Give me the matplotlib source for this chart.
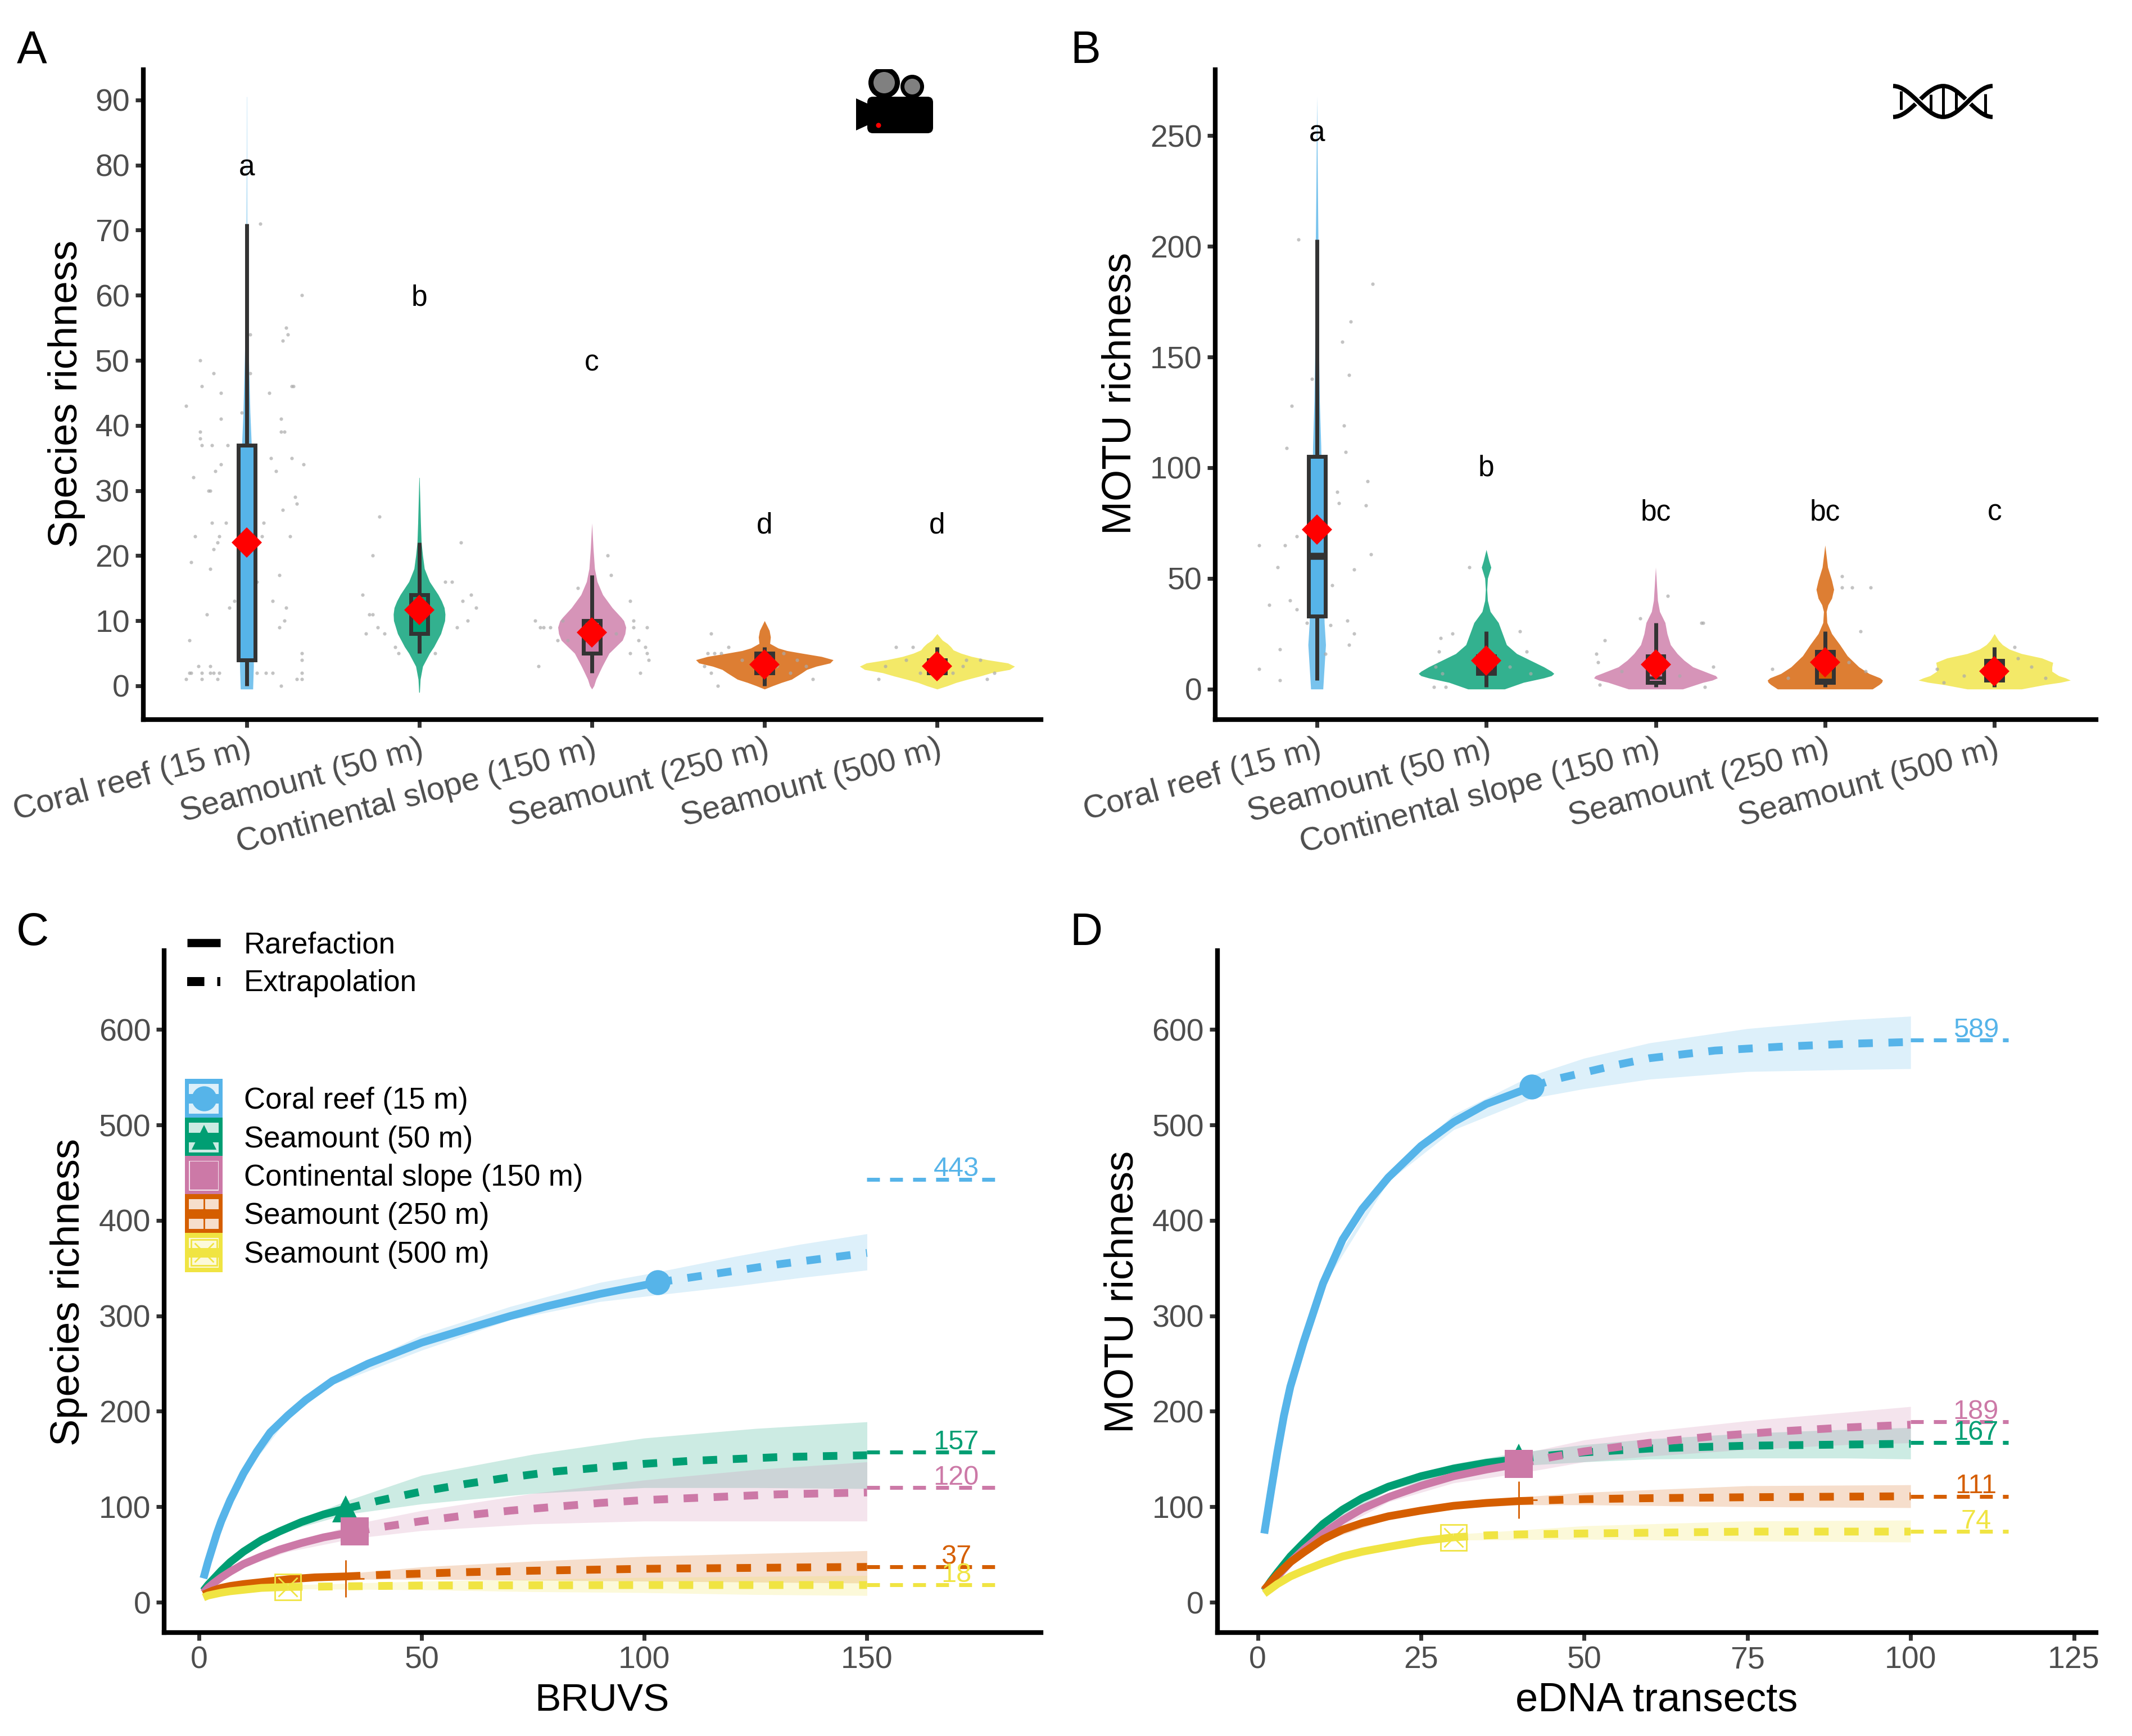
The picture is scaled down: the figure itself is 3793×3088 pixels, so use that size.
import matplotlib
matplotlib.use('Agg')
import matplotlib.pyplot as plt
from matplotlib.lines import Line2D
from matplotlib.patches import Rectangle, Circle, Polygon, FancyBboxPatch, PathPatch
from matplotlib.path import Path
from matplotlib.transforms import Affine2D, ScaledTranslation

plt.rcParams['font.family'] = ['Liberation Sans', 'DejaVu Sans']
plt.rcParams['lines.scale_dashes'] = False

W, H = 3793, 3088
TICK_GREY = '#4D4D4D'
DARK = '#333333'

sites = ['Coral reef (15 m)', 'Seamount (50 m)', 'Continental slope (150 m)', 'Seamount (250 m)', 'Seamount (500 m)']
colors = ['#56B4E9', '#009E73', '#CC79A7', '#D55E00', '#F0E442']

# ---- panel A: violins (value, half width in category units)
a_violin_y = [
    [-0.5, 3, 10, 20, 30, 37, 42, 50, 55, 60, 70, 80, 90.5],
    [-1, 1, 3, 4, 5, 6, 8, 10, 11, 12, 13, 14, 15, 16, 18, 20, 22, 25, 28, 32],
    [-0.5, 0, 1, 3, 5, 7, 8, 9, 10, 10.5, 12, 14, 16, 18, 21, 25],
    [-0.5, 0, 0.5, 1, 2, 2.5, 3, 3.5, 4, 4.5, 5, 5.4, 5.8, 6.5, 7.5, 8.5, 10],
    [-0.5, 0, 0.5, 1, 1.5, 2, 2.5, 3, 3.5, 4, 4.5, 5, 5.5, 6, 6.5, 7, 8],
]
a_violin_w = [
    [.036, .040, .040, .038, .034, .028, .020, .012, .008, .005, .002, .001, .0005],
    [.002, .006, .02, .04, .06, .085, .125, .148, .15, .145, .13, .11, .085, .06, .03, .02, .012, .008, .005, .001],
    [0, .012, .024, .06, .10, .177, .192, .197, .185, .17, .118, .063, .031, .016, .008, 0],
    [0, .047, .098, .157, .217, .245, .30, .38, .398, .33, .217, .13, .079, .031, .035, .028, 0],
    [0, .059, .11, .177, .25, .315, .42, .449, .41, .29, .20, .138, .094, .079, .059, .031, 0],
]
a_box_lo = [0, 5, 2, 0, 1]
a_box_q1 = [4, 8, 5, 2, 2]
a_box_med = [22, 12, 8, 3, 3]
a_box_q3 = [37, 14, 10, 5, 4]
a_box_hi = [71, 22, 17, 6, 6]
a_means = [22, 11.7, 8.2, 3.3, 3]
a_letters = ['a', 'b', 'c', 'd', 'd']
a_letter_y = [80, 60, 50, 25, 25]

a_pts_dx = [
    [-.27, -.19, -.26, -.15, -.35, -.03, -.15, -.27, -.27, -.26, -.20, -.11, -.15, -.18, -.31, -.22, -.21, -.12, -.20, -.16,
     -.30, -.17, -.19, -.32, -.21, -.07, -.10, -.23, -.33, -.28, -.21, -.32, -.26, -.21, -.19, -.16, -.35, -.33, -.26, -.17,
     .32, .23, .24, .21, .02, .02, .13, .26, .27, .20, .20, .22, .14, .26, .33, .17, .28, .29, .21, .10, .09, .25, .19, .06,
     .15, .23, .22, .19, .32, .32, .32, .15, .11, .29, .32, .20, .06, .08],
    [-.23, -.27, -.33, -.29, -.27, -.31, -.24, -.20, -.14, -.12, .24, .15, .19, .30, .25, .33, .28, .22, .09],
    [.09, .11, .22, .24, .32, .24, .27, .31, .32, .33, .28, -.33, -.30, -.28, -.24, -.31, -.17, -.20, -.14, -.08, .22, .14],
    [-.31, -.21, -.33, -.29, -.25, -.35, -.31, -.27, .11, .19, .24, .28, .15, -.13, .07],
    [-.34, -.24, -.14, -.18, -.30, .17, .25, .29, .09, .33, -.10, .15],
]
a_pts_y = [
    [50, 48, 46, 45, 43, 42, 41, 39, 38, 37, 37, 37, 34, 33, 32, 30, 30, 25, 25, 23,
     23, 22, 21, 19, 18, 13, 12, 11, 7, 3, 3, 2, 2, 2, 2, 2, 1, 2, 1, 1,
     60, 55, 54, 53, 54, 48, 45, 46, 46, 41, 39, 39, 35, 35, 34, 33, 29, 28, 27, 25, 23, 23, 17, 16,
     13, 12, 10, 9, 5, 4, 2, 2, 2, 1, 1, 0, 2, 71],
    [26, 20, 14, 11, 11, 8, 9, 8, 6, 5, 22, 16, 16, 14, 13, 12, 10, 9, 5],
    [20, 17, 13, 10, 9, 9, 7, 6, 5, 4, 2, 10, 9, 9, 9, 3, 10, 7, 7, 15, 5, 8],
    [8, 6, 5, 5, 5, 3, 2, 0, 5, 4, 3, 1, 2, 4, 3],
    [1, 6, 6, 4, 3, 4, 4, 1, 2, 2, 2, 3],
]

# ---- panel B
b_violin_y = [
    [0, 20, 30, 60, 110, 130, 150, 200, 230, 268],
    [0, 3, 5, 6, 7, 8, 10, 13, 16, 20, 25, 30, 35, 40, 45, 50, 52, 55, 58, 63],
    [0, 3, 4, 5, 6, 7, 10, 13, 16, 20, 25, 30, 35, 40, 45, 55],
    [0, 2, 3, 4, 5, 7, 10, 15, 20, 25, 30, 35, 38, 41, 45, 49, 52, 55, 65],
    [0, 2, 3, 4, 5, 6, 8, 10, 12, 14, 16, 18, 20, 22, 25],
]
b_violin_w = [
    [.036, .052, .044, .036, .024, .016, .012, .008, .004, 0],
    [.108, .22, .34, .385, .40, .385, .34, .26, .18, .12, .096, .072, .024, .008, .004, .008, .016, .028, .016, 0],
    [.16, .28, .335, .365, .355, .32, .22, .168, .128, .088, .068, .056, .024, .012, .008, 0],
    [.28, .32, .335, .34, .325, .26, .20, .132, .088, .04, .012, .008, .018, .04, .052, .04, .028, .016, 0],
    [.16, .30, .39, .449, .42, .38, .34, .34, .345, .28, .16, .088, .048, .024, 0],
]
b_box_lo = [4, 1, 1, 1, 1]
b_box_q1 = [33, 7, 3, 3, 4]
b_box_med = [60, 8, 5, 4, 8]
b_box_q3 = [105, 15, 15, 17, 13]
b_box_hi = [203, 26, 30, 26, 19]
b_means = [72, 13, 11, 12, 8]
b_letters = ['a', 'b', 'bc', 'bc', 'c']
b_letter_y = [252, 101, 81, 81, 81]

b_pts_dx = [
    [-.11, .33, .20, .15, .19, -.03, -.15, .16, -.18, .17, .12, .13, .29, .30, -.19, -.34, -.12, -.23, .32, .22, .09, -.28,
     -.16, -.12, .18, .08, -.06, .22, .19, -.22, -.34, -.22, .05],
    [-.10, -.27, -.20, .20, .24, -.28, -.30, -.31, -.24, -.26, .14, .26],
    [.07, -.09, .27, .28, -.30, -.35, -.34, -.33, .34, .29, -.20, .14],
    [.10, .10, .16, .27, .21, -.31, .24, -.22, .14],
    [.12, -.34, .14, -.18, .30, -.30, .22],
]
b_pts_y = [
    [203, 183, 166, 157, 142, 140, 128, 119, 109, 107, 89, 84, 83, 94, 65, 65, 69, 55, 61, 54, 47, 38,
     40, 36, 31, 29, 30, 25, 20, 18, 9, 4, 16],
    [55, 23, 25, 26, 17, 17, 10, 1, 1, 7, 10, 7],
    [42, 32, 30, 30, 22, 16, 12, 2, 10, 1, 8, 6],
    [51, 46, 46, 46, 26, 9, 8, 5, 12],
    [19, 9, 14, 6, 5, 3, 10],
]

# ---- panel C: accumulation curves
c_rare_x = [
    [1, 2, 3, 4, 5, 7, 10, 13, 16, 20, 24, 30, 38, 44, 50, 62, 70, 78, 90, 103],
    [1, 2, 3, 5, 7, 10, 14, 18, 23, 28, 33],
    [1, 2, 3, 5, 7, 10, 14, 18, 23, 28, 35],
    [1, 2, 3, 5, 7, 10, 14, 20, 26, 33],
    [1, 2, 3, 5, 7, 10, 14, 20],
]
c_rare_y = [
    [25, 42, 57, 72, 85, 107, 135, 158, 178, 196, 212, 232, 250, 261, 272, 289, 300, 310, 323, 335],
    [12, 18, 23, 33, 42, 53, 65, 74, 84, 92, 98],
    [10, 15, 19, 26, 32, 40, 48, 55, 62, 68, 74],
    [8, 10, 12, 15, 17, 19, 21, 24, 26, 27],
    [5, 7, 8, 10, 11.5, 13, 15, 16],
]
c_ext_x = [
    [103, 110, 120, 130, 140, 150],
    [33, 40, 50, 60, 70, 80, 90, 100, 110, 120, 130, 140, 150],
    [35, 40, 50, 60, 70, 80, 90, 100, 110, 120, 130, 140, 150],
    [33, 40, 50, 60, 75, 100, 125, 150],
    [20, 50, 100, 150],
]
c_ext_y = [
    [335, 340, 347, 354, 360, 366],
    [98, 106, 116, 124, 131, 137, 141, 145, 148, 150, 152, 153, 154],
    [74, 78, 85, 91, 96, 100, 104, 107, 109, 111, 113, 114, 115],
    [27, 28.5, 30, 31.5, 33, 35, 36, 37],
    [16, 17.5, 18, 18],
]
c_band_x = [
    [1, 5, 10, 20, 30, 50, 70, 90, 103, 120, 135, 150],
    [1, 5, 10, 20, 33, 50, 75, 100, 125, 150],
    [1, 5, 10, 20, 35, 50, 75, 100, 125, 150],
    [1, 10, 33, 50, 75, 100, 125, 150],
    [1, 10, 20, 50, 75, 100, 125, 150],
]
c_band_lo = [
    [24, 84, 133, 193, 228, 264, 296, 315, 322, 331, 340, 348],
    [11, 31, 51, 75, 92, 103, 114, 120, 120, 119],
    [9, 24, 37, 53, 67, 75, 82, 85, 85, 85],
    [7, 18, 24, 24, 23, 22, 21, 20],
    [4, 12, 14, 13, 11, 10, 8, 7],
]
c_band_hi = [
    [26, 86, 137, 199, 236, 280, 310, 335, 346, 362, 375, 386],
    [13, 35, 55, 82, 106, 133, 155, 172, 182, 189],
    [11, 28, 43, 60, 82, 96, 114, 128, 139, 147],
    [9, 20, 30, 37, 43, 48, 51, 54],
    [6, 14, 18, 22, 24, 26, 27, 28],
]
c_asymptote = [443, 157, 120, 37, 18]
c_ref = [(103, 335), (33, 98), (35, 74), (33, 25), (20, 16)]

# ---- panel D
d_rare_x = [
    [1, 2, 3, 4, 5, 7, 10, 13, 16, 20, 25, 30, 35, 42],
    [1, 2, 3, 5, 7, 10, 13, 16, 20, 25, 30, 35, 40],
    [1, 2, 3, 5, 7, 10, 13, 16, 20, 25, 30, 35, 40],
    [1, 2, 3, 5, 7, 10, 13, 16, 20, 25, 30, 35, 40],
    [1, 2, 3, 5, 7, 10, 13, 16, 20, 25, 30],
]
d_rare_y = [
    [72, 115, 157, 195, 226, 272, 334, 380, 412, 445, 478, 503, 522, 540],
    [12, 22, 31, 48, 62, 82, 97, 109, 121, 132, 140, 146, 150],
    [12, 19, 27, 42, 55, 72, 86, 98, 110, 122, 132, 139, 145],
    [13, 21, 29, 42, 52, 66, 76, 83, 90, 96, 101, 104, 106],
    [9, 14, 19, 27, 33, 41, 48, 53, 58, 64, 68],
]
d_ext_x = [
    [42, 45, 50, 55, 60, 70, 80, 90, 100],
    [40, 45, 50, 60, 75, 100],
    [40, 45, 50, 60, 70, 80, 90, 100],
    [40, 50, 60, 75, 100],
    [30, 35, 40, 50, 75, 100],
]
d_ext_y = [
    [540, 547, 555, 563, 570, 578, 582, 585, 587],
    [150, 154, 157, 161, 164, 166],
    [145, 152, 158, 167, 174, 179, 183, 186],
    [106, 108, 109, 110, 111],
    [68, 70, 71, 72, 74, 74],
]
d_band_x = [
    [1, 5, 10, 20, 30, 42, 50, 60, 75, 90, 100],
    [1, 5, 10, 20, 30, 40, 50, 60, 75, 90, 100],
    [1, 5, 10, 20, 30, 40, 50, 60, 75, 90, 100],
    [1, 5, 10, 20, 30, 40, 50, 75, 100],
    [1, 5, 10, 20, 30, 50, 75, 100],
]
d_band_lo = [
    [71, 224, 331, 441, 495, 528, 538, 548, 556, 558, 559],
    [11, 46, 79, 117, 135, 143, 147, 150, 151, 151, 150],
    [11, 40, 69, 105, 125, 135, 147, 153, 160, 165, 167],
    [12, 40, 64, 87, 98, 102, 102, 100, 99],
    [8, 25, 39, 55, 65, 66, 64, 63],
]
d_band_hi = [
    [73, 228, 337, 449, 511, 552, 570, 586, 601, 610, 614],
    [13, 50, 85, 125, 145, 157, 165, 171, 177, 181, 183],
    [13, 44, 75, 115, 139, 155, 170, 179, 190, 199, 205],
    [14, 44, 68, 93, 104, 110, 115, 122, 123],
    [10, 27, 43, 61, 71, 80, 85, 86],
]
d_asymptote = [589, 167, 189, 111, 74]
d_ref = [(42, 540), (40, 152), (40, 145), (40, 107), (30, 68)]

a_yticks = list(range(0, 91, 10))
b_yticks = [0, 50, 100, 150, 200, 250]
curve_yticks = [0, 100, 200, 300, 400, 500, 600]
c_xticks = [0, 50, 100, 150]
d_xticks = [0, 25, 50, 75, 100, 125]

fig = plt.figure(figsize=(W / 100, H / 100), dpi=100, facecolor='white')
# everything outside the axes is placed in image pixels, y downwards
px = Affine2D().scale(1, -1).translate(0, H)


def make_axes(left, right, top, bottom):
    ax = fig.add_axes([left / W, 1 - bottom / H, (right - left) / W, (bottom - top) / H])
    ax.spines['top'].set_visible(False)
    ax.spines['right'].set_visible(False)
    ax.spines['left'].set_linewidth(6)
    ax.spines['bottom'].set_linewidth(6)
    ax.tick_params(length=10, width=5, color=DARK, labelcolor=TICK_GREY, labelsize=40)
    ax.tick_params(axis='y', pad=7)
    ax.tick_params(axis='x', pad=7)
    return ax


def violin_panel(ax, vy, vw, q_lo, q1, med, q3, q_hi, means, pts_dx, pts_y, letters, letter_y):
    for i in range(5):
        ax.fill_betweenx(vy[i], [i + 1 - w for w in vw[i]], [i + 1 + w for w in vw[i]],
                         color=colors[i], alpha=0.8, lw=0, zorder=2)
        ax.scatter([i + 1 + d for d in pts_dx[i]], pts_y[i], s=20, color='#AAAAAA', alpha=0.7, lw=0, zorder=2.5)
    stats = [{'med': med[i], 'q1': q1[i], 'q3': q3[i], 'whislo': q_lo[i], 'whishi': q_hi[i], 'fliers': []} for i in range(5)]
    bp = ax.bxp(stats, positions=[1, 2, 3, 4, 5], widths=0.098, patch_artist=True, showcaps=False, showfliers=False,
                boxprops=dict(edgecolor=DARK, linewidth=5), medianprops=dict(color=DARK, linewidth=4, solid_capstyle='butt'),
                whiskerprops=dict(color=DARK, linewidth=5, solid_capstyle='butt'), zorder=3)
    bp['medians'][0].set_linewidth(9)
    for patch, c in zip(bp['boxes'], colors):
        patch.set_facecolor(c)
    ax.plot([1, 2, 3, 4, 5], means, ls='none', marker='D', ms=27, mfc='red', mew=0, zorder=5)
    for i in range(5):
        ax.annotate(letters[i], (i + 1, letter_y[i]), xytext=(0, -3.6), textcoords='offset points', ha='center',
                    va='center', fontsize=37, color='black', zorder=6)
    ax.set_xlim(0.4, 5.6)
    ax.set_xticks([1, 2, 3, 4, 5])
    ax.set_xticklabels(sites, rotation=15, ha='right', va='top', rotation_mode='anchor', fontsize=41.5)
    for lab in ax.get_xticklabels():
        lab.set_transform(lab.get_transform() + ScaledTranslation(0.0, -0.02, fig.dpi_scale_trans))


def curve_panel(ax, rx, ry, ex, ey, bx, blo, bhi, asym, ref, line_end, label_x):
    for i in range(5):
        ax.fill_between(bx[i], blo[i], bhi[i], color=colors[i], alpha=0.2, lw=0, zorder=2)
    for i in range(5):
        ax.plot(rx[i], ry[i], color=colors[i], lw=10, solid_capstyle='butt', solid_joinstyle='round', zorder=3)
        ax.plot(ex[i], ey[i], color=colors[i], lw=10, ls=(0, (18.5, 20)), dash_capstyle='butt', zorder=3)
        ax.plot([ex[i][-1], line_end], [asym[i], asym[i]], color=colors[i], lw=5, ls=(0, (16.5, 13)),
                dash_capstyle='butt', zorder=3)
        ax.annotate(str(asym[i]), (label_x, asym[i]), xytext=(0, 4), textcoords='offset points', ha='center',
                    va='baseline', fontsize=35, color=colors[i], zorder=4)
    ax.plot(*ref[0], marker='o', ms=32, mfc=colors[0], mew=0, zorder=5)
    ax.plot(*ref[1], marker='^', ms=34, mfc=colors[1], mew=0, zorder=5)
    ax.plot(*ref[2], marker='s', ms=36, mfc=colors[2], mew=0, zorder=5)
    ax.plot(*ref[3], marker='+', ms=47, mec=colors[3], mew=2, zorder=5)
    ax.plot(*ref[4], marker='s', ms=33, mfc='none', mec=colors[4], mew=2, zorder=5)
    ax.plot(*ref[4], marker='x', ms=24, mec=colors[4], mew=2, zorder=5)


# A
ax_a = make_axes(254.5, 1851.5, 124, 1279.5)
violin_panel(ax_a, a_violin_y, a_violin_w, a_box_lo, a_box_q1, a_box_med, a_box_q3, a_box_hi, a_means,
             a_pts_dx, a_pts_y, a_letters, a_letter_y)
ax_a.set_ylim(-5.14, 94.65)
ax_a.set_yticks(a_yticks)

# B
ax_b = make_axes(2162, 3729, 124, 1279.5)
violin_panel(ax_b, b_violin_y, b_violin_w, b_box_lo, b_box_q1, b_box_med, b_box_q3, b_box_hi, b_means,
             b_pts_dx, b_pts_y, b_letters, b_letter_y)
ax_b.set_ylim(-13.66, 279.8)
ax_b.set_yticks(b_yticks)

# C
ax_c = make_axes(292, 1851.5, 1691, 2904)
curve_panel(ax_c, c_rare_x, c_rare_y, c_ext_x, c_ext_y, c_band_x, c_band_lo, c_band_hi, c_asymptote, c_ref, 179, 170)
ax_c.set_xlim(-7.83, 189)
ax_c.set_ylim(-31.8, 682.7)
ax_c.set_xticks(c_xticks)
ax_c.set_yticks(curve_yticks)

# D
ax_d = make_axes(2165.6, 3729, 1691, 2904)
curve_panel(ax_d, d_rare_x, d_rare_y, d_ext_x, d_ext_y, d_band_x, d_band_lo, d_band_hi, d_asymptote, d_ref, 115, 110)
ax_d.set_xlim(-6.2, 128.4)
ax_d.set_ylim(-31.8, 682.7)
ax_d.set_xticks(d_xticks)
ax_d.set_yticks(curve_yticks)

# axis titles and panel letters
fig.text(119, 700, 'Species richness', rotation=90, ha='center', va='center', fontsize=52, transform=px)
fig.text(1993, 700, 'MOTU richness', rotation=90, ha='center', va='center', fontsize=52, transform=px)
fig.text(123, 2298, 'Species richness', rotation=90, ha='center', va='center', fontsize=52, transform=px)
fig.text(1997, 2298, 'MOTU richness', rotation=90, ha='center', va='center', fontsize=52, transform=px)
fig.text(1071, 3044, 'BRUVS', ha='center', va='baseline', fontsize=50, transform=px)
fig.text(2947, 3044, 'eDNA transects', ha='center', va='baseline', fontsize=52, transform=px)
for s, x, y in [('A', 30, 112), ('B', 1904, 112), ('C', 29, 1681), ('D', 1903, 1681)]:
    fig.text(x, y, s, ha='left', va='baseline', fontsize=58, transform=px)

# line type legend
fig.add_artist(Line2D([333, 392], [1677, 1677], color='black', lw=10.5, solid_capstyle='butt', transform=px))
fig.add_artist(Line2D([333, 392], [1746, 1746], color='black', lw=11.5, ls=(0, (22, 16.5)), dash_capstyle='butt', transform=px))
fig.text(434, 1682, 'Rarefaction', va='center', fontsize=38, transform=px)
fig.text(434, 1749, 'Extrapolation', va='center', fontsize=38, transform=px)

# site legend
row_y = [1954, 2023, 2091, 2159, 2228]
key_marks = ['o', '^', 's', 'o', None]
key_ms = [32, 32, 36, 13, None]
for i, yc in enumerate(row_y):
    c = colors[i]
    fig.add_artist(Rectangle((329, yc - 35), 67, 70, fc=c, lw=0, transform=px))
    fig.add_artist(Rectangle((336, yc - 26.5), 53, 53, fc='white', lw=0, transform=px))
    fig.add_artist(Rectangle((336, yc - 26.5), 53, 53, fc=c, alpha=0.2, lw=0, transform=px))
    if i != 2:
        fig.add_artist(Rectangle((329, yc - 8.5), 67, 17, fc=c, lw=0, transform=px))
    if key_marks[i]:
        fig.add_artist(Line2D([362.5], [yc], marker=key_marks[i], ms=key_ms[i], mfc=c, mew=0, transform=px))
    if i == 3:
        fig.add_artist(Line2D([362.5, 362.5], [yc - 30, yc + 30], color=c, lw=2, transform=px))
    if i == 4:
        fig.add_artist(Line2D([362.5], [yc], marker='s', ms=33, mfc='none', mec=c, mew=2, transform=px))
        fig.add_artist(Line2D([362.5], [yc], marker='x', ms=24, mec=c, mew=2, transform=px))
    fig.text(434, yc + 4, sites[i], va='center', fontsize=38, transform=px)

# camera icon
clip = Rectangle((1400, 123), 400, 200, transform=px)
for cx, cy, r_out, r_in in [(1573, 147, 28, 19), (1623, 154, 21, 14)]:
    big = Circle((cx, cy), r_out, fc='black', lw=0, transform=px)
    small = Circle((cx, cy), r_in, fc='#808080', lw=0, transform=px)
    fig.add_artist(big)
    fig.add_artist(small)
    big.set_clip_path(clip)
    small.set_clip_path(clip)
fig.add_artist(FancyBboxPatch((1543, 172), 117, 65, boxstyle='round,pad=0,rounding_size=10', fc='black', lw=0, transform=px))
fig.add_artist(Polygon([(1523, 175), (1545, 185), (1545, 222), (1523, 232)], closed=True, fc='black', lw=0, transform=px))
fig.add_artist(Circle((1563, 223), 4.5, fc='red', lw=0, transform=px))

# DNA icon
codes = [Path.MOVETO, Path.CURVE4, Path.CURVE4, Path.CURVE4, Path.CURVE4, Path.CURVE4, Path.CURVE4]
strand_1 = [(3368, 153), (3400, 153), (3425, 208), (3457, 208), (3489, 208), (3514, 153), (3545, 153)]
strand_2 = [(3368, 208), (3400, 208), (3425, 153), (3457, 153), (3489, 153), (3514, 208), (3545, 208)]
for bx_, y0, y1 in [(3382, 162, 195), (3435, 168, 203), (3457, 155, 205), (3480, 162, 195), (3532, 167, 203)]:
    fig.add_artist(Line2D([bx_, bx_], [y0, y1], color='black', lw=3.6, solid_capstyle='butt', transform=px))
fig.add_artist(PathPatch(Path(strand_2, codes), fc='none', ec='black', lw=5.5, transform=px))
fig.add_artist(PathPatch(Path(strand_1, codes), fc='none', ec='white', lw=9, transform=px))
fig.add_artist(PathPatch(Path(strand_1, codes), fc='none', ec='black', lw=5.5, transform=px))

fig.savefig('out.png', dpi=100)
